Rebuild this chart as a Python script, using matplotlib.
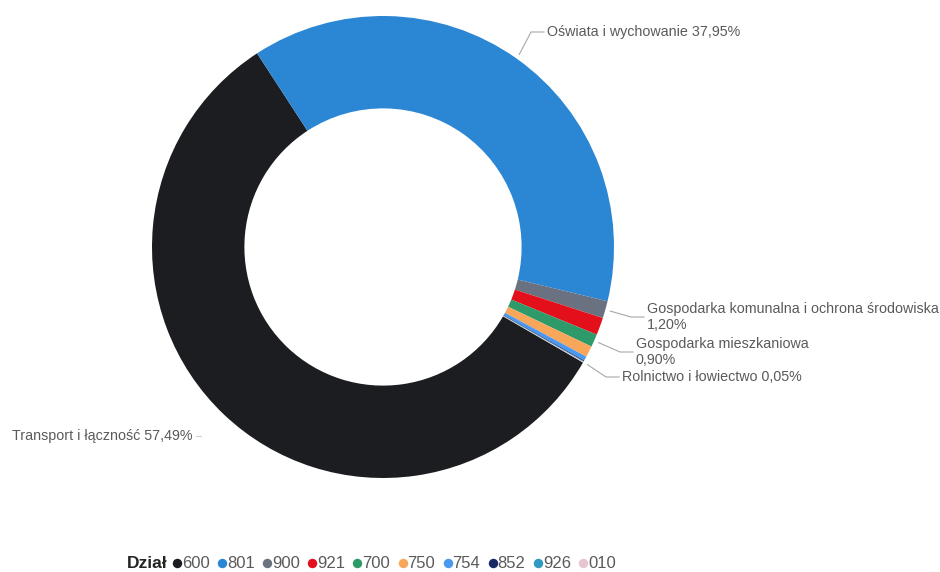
import numpy as np
import matplotlib
matplotlib.use('Agg')
import matplotlib.pyplot as plt

plt.rcParams['font.family'] = ['Liberation Sans', 'DejaVu Sans']

# data
codes = ['600', '801', '900', '921', '700', '750', '754', '852', '926', '010']
names = ['Transport i łączność', 'Oświata i wychowanie',
         'Gospodarka komunalna i ochrona środowiska', '', 'Gospodarka mieszkaniowa',
         '', '', '', '', 'Rolnictwo i łowiectwo']
shares = [57.49, 37.95, 1.20, 1.22, 0.90, 0.78, 0.30, 0.06, 0.05, 0.05]
colors_ = ['#1c1d20', '#2b87d4', '#6a7282', '#e3101c', '#2e9a6a', '#f8a65a',
           '#4a98f0', '#1a2a66', '#2e9ac4', '#e6c6cf']

W, H = 940, 572
fig = plt.figure(figsize=(W / 100, H / 100), dpi=100)
ax = fig.add_axes([0, 0, 1, 1])

cx, cy, R = 383, H - 247, 231
wedges, _ = ax.pie(shares, colors=colors_, startangle=-30, counterclock=False,
                   center=(cx, cy), radius=R, frame=True,
                   wedgeprops=dict(width=R * 0.4, linewidth=0))
ax.set_xlim(0, W)
ax.set_ylim(0, H)
ax.set_aspect('equal')
ax.axis('off')

txt_col = '#5a5a5a'
line_col = '#a8a8a8'
fs = 10.3

def fmt(v):
    return f'{v:.2f}'.replace('.', ',') + '%'

# label placements: text x, centre y (pixels from top)
labels = {
    1: (547, 32, f'{names[1]} {fmt(shares[1])}'),
    2: (647, 317, f'{names[2]}\n{fmt(shares[2])}'),
    4: (636, 352, f'{names[4]}\n{fmt(shares[4])}'),
    9: (622, 377, f'{names[9]} {fmt(shares[9])}'),
}
for i, (lx, ly, s) in labels.items():
    w = wedges[i]
    mid = np.deg2rad((w.theta1 + w.theta2) / 2)
    x0 = cx + (R + 5) * np.cos(mid)
    y0 = cy + (R + 5) * np.sin(mid)
    ty = H - ly
    ax.plot([x0, lx - 16, lx - 3], [y0, ty, ty], color=line_col, lw=0.8)
    ax.text(lx, ty, s, ha='left', va='center', fontsize=fs, color=txt_col,
            linespacing=1.25)

# transport label (left side, only a short dash)
ty = H - 436
ax.text(193, ty, f'{names[0]} {fmt(shares[0])}', ha='right', va='center',
        fontsize=fs, color=txt_col)
ax.plot([196, 201], [ty, ty], color='#d0d0d0', lw=0.8)

# legend
ly = H - 563
ax.text(127, ly, 'Dział', fontsize=12.5, fontweight='bold', color='#252423',
        va='center', ha='left')
lx = 177
for c, col in zip(codes, colors_):
    ax.plot(lx, ly, 'o', color=col, ms=6.8, mec='none')
    ax.text(lx + 5, ly, c, fontsize=12, color='#5a5a5a', va='center', ha='left')
    lx += 45.1

fig.savefig('out.png', dpi=100, facecolor='white')
